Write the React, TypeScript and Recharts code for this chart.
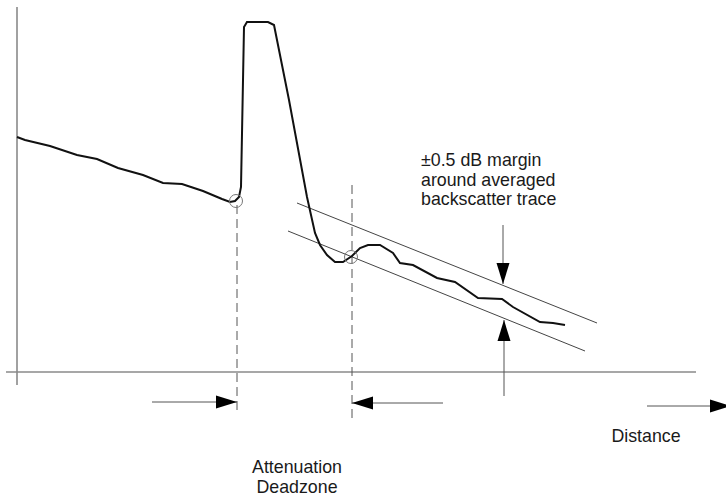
import React from 'react';
import { LineChart, Line, XAxis, YAxis, ReferenceLine, ReferenceDot } from 'recharts';

// averaged backscatter trace (distance, level)
const traceDistance = [
  17, 25, 50, 77, 97, 118, 143, 163, 182, 203, 222, 230, 235, 239, 241, 244, 247, 268, 274, 289,
  307, 315, 320, 327, 335, 343, 352, 360, 368, 380, 393, 400, 413, 437, 455, 478, 502, 513, 540,
  553, 565,
];
const traceLevel = [
  358, 355, 349, 340, 336, 327, 320, 312, 311, 304, 296, 293, 294, 298, 308, 468, 473, 473, 470,
  395, 298, 262, 250, 240, 233, 233, 239, 247, 250, 250, 242, 232, 230, 217, 213, 197, 196, 188,
  173, 172, 170,
];

// ±0.5 dB margin lines
const marginUpper = [
  { x: 297, y: 292 },
  { x: 597, y: 172 },
];
const marginLower = [
  { x: 288, y: 264 },
  { x: 585, y: 144 },
];

// event points (start of event, recovery into margin)
const eventPoints = [
  { x: 236, y: 294 },
  { x: 351, y: 238 },
];

// deadzone limits
const deadzoneMarkers = [
  { x: 237, top: 290, bottom: 85 },
  { x: 352, top: 310, bottom: 77 },
];

type Dir = 'left' | 'right' | 'up' | 'down';
interface Arrow {
  from: { x: number; y: number };
  tip: { x: number; y: number };
  dir: Dir;
}
const arrows: Arrow[] = [
  { from: { x: 152, y: 93 }, tip: { x: 237, y: 93 }, dir: 'right' },
  { from: { x: 443, y: 92 }, tip: { x: 352, y: 92 }, dir: 'left' },
  { from: { x: 647, y: 89 }, tip: { x: 731, y: 89 }, dir: 'right' },
  { from: { x: 503, y: 270 }, tip: { x: 503, y: 211 }, dir: 'down' },
  { from: { x: 504, y: 99 }, tip: { x: 504, y: 175 }, dir: 'up' },
];

const annotations = [
  { x: 421, y: 329, anchor: 'start', lines: ['±0.5 dB margin', 'around averaged', 'backscatter trace'] },
  { x: 297, y: 22, anchor: 'middle', lines: ['Attenuation', 'Deadzone'] },
  { x: 646, y: 53, anchor: 'middle', lines: ['Distance'] },
];

const traceData = traceDistance.map((x, i) => ({ x, y: traceLevel[i] }));

const FONT = '"Liberation Sans", Arial, Helvetica, sans-serif';

const Head = (props: any) => {
  const { cx, cy, dir } = props;
  const len = 21;
  const half = 6.5;
  let pts = '';
  if (dir === 'right') pts = `${cx},${cy} ${cx - len},${cy - half} ${cx - len},${cy + half}`;
  if (dir === 'left') pts = `${cx},${cy} ${cx + len},${cy - half} ${cx + len},${cy + half}`;
  if (dir === 'down') pts = `${cx},${cy} ${cx - half},${cy - len} ${cx + half},${cy - len}`;
  if (dir === 'up') pts = `${cx},${cy} ${cx - half},${cy + len} ${cx + half},${cy + len}`;
  return <polygon points={pts} fill="#000" stroke="none" />;
};

const Note = (props: any) => {
  const { cx, cy, lines, anchor } = props;
  return (
    <text x={cx} y={cy} textAnchor={anchor} fontFamily={FONT} fontSize={17.8} fill="#1a1a1a">
      {lines.map((l: string, i: number) => (
        <tspan key={i} x={cx} dy={i === 0 ? 0 : 19.5}>
          {l}
        </tspan>
      ))}
    </text>
  );
};

export default function App() {
  return (
    <div style={{ position: 'absolute', left: 0, top: 0, background: '#fff' }}>
      <LineChart width={726} height={495} margin={{ top: 0, right: 0, bottom: 0, left: 0 }}>
        <XAxis type="number" dataKey="x" domain={[0, 726]} hide allowDataOverflow />
        <YAxis type="number" dataKey="y" domain={[0, 495]} hide allowDataOverflow />

        {/* axes */}
        <ReferenceLine
          segment={[{ x: 17, y: 488 }, { x: 17, y: 110 }]}
          stroke="#8a8a8a"
          strokeWidth={1.6}
          ifOverflow="visible"
        />
        <ReferenceLine
          segment={[{ x: 6, y: 123 }, { x: 696, y: 123 }]}
          stroke="#8a8a8a"
          strokeWidth={1.6}
          ifOverflow="visible"
        />

        {deadzoneMarkers.map((m, i) => (
          <ReferenceLine
            key={`dz${i}`}
            segment={[{ x: m.x, y: m.top }, { x: m.x, y: m.bottom }]}
            stroke="#555"
            strokeWidth={1}
            strokeDasharray="9 5"
            ifOverflow="visible"
          />
        ))}

        <Line
          data={marginUpper}
          dataKey="y"
          stroke="#444"
          strokeWidth={1}
          dot={false}
          activeDot={false}
          isAnimationActive={false}
        />
        <Line
          data={marginLower}
          dataKey="y"
          stroke="#444"
          strokeWidth={1}
          dot={false}
          activeDot={false}
          isAnimationActive={false}
        />

        <Line
          data={traceData}
          dataKey="y"
          type="linear"
          stroke="#111"
          strokeWidth={2}
          dot={false}
          activeDot={false}
          isAnimationActive={false}
        />

        {eventPoints.map((p, i) => (
          <ReferenceDot
            key={`ev${i}`}
            x={p.x}
            y={p.y}
            r={6.5}
            fill="none"
            stroke="#777"
            strokeWidth={1}
            ifOverflow="visible"
          />
        ))}

        {arrows.map((a, i) => (
          <ReferenceLine
            key={`sh${i}`}
            segment={[a.from, a.tip]}
            stroke="#555"
            strokeWidth={1}
            ifOverflow="visible"
          />
        ))}
        {arrows.map((a, i) => (
          <ReferenceDot
            key={`hd${i}`}
            x={a.tip.x}
            y={a.tip.y}
            r={1}
            ifOverflow="visible"
            shape={(p: any) => <Head cx={p.cx} cy={p.cy} dir={a.dir} />}
          />
        ))}

        {annotations.map((n, i) => (
          <ReferenceDot
            key={`nt${i}`}
            x={n.x}
            y={n.y}
            r={1}
            ifOverflow="visible"
            shape={(p: any) => <Note cx={p.cx} cy={p.cy} lines={n.lines} anchor={n.anchor} />}
          />
        ))}
      </LineChart>
    </div>
  );
}
